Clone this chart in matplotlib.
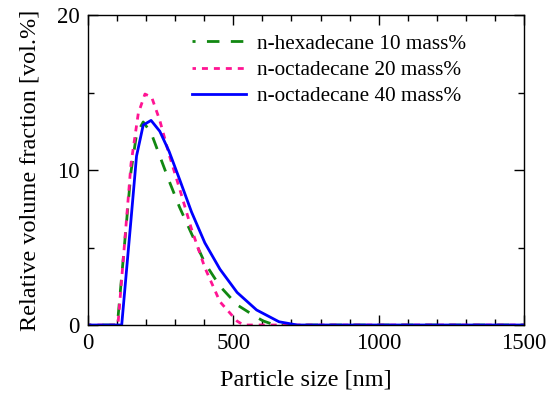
import matplotlib
matplotlib.use("Agg")
import matplotlib.pyplot as plt
from matplotlib.ticker import MultipleLocator

plt.rcParams['font.family'] = ['Liberation Serif', 'DejaVu Serif']

# Data
hex10_x = [0, 101, 148, 167, 190, 217, 247, 279, 315, 356, 402, 454, 513, 580, 603, 643, 1500]
hex10_y = [0, 0, 9.9, 12.3, 13.1, 12.4, 10.9, 9.3, 7.6, 5.9, 4.0, 2.5, 1.3, 0.5, 0.26, 0, 0]

oct20_x = [0, 103, 148, 173, 196, 219, 247, 279, 315, 356, 402, 454, 513, 535, 1500]
oct20_y = [0, 0, 10.4, 13.65, 14.9, 14.7, 13.2, 11.0, 8.8, 6.2, 3.7, 1.5, 0.25, 0, 0]

oct40_x = [0, 116, 131, 148, 167, 190, 217, 247, 279, 315, 356, 402, 454, 513, 580, 657, 720, 1500]
oct40_y = [0, 0, 3.2, 6.8, 10.9, 12.9, 13.2, 12.5, 11.2, 9.4, 7.3, 5.3, 3.6, 2.1, 0.97, 0.21, 0, 0]

labels = ["n-hexadecane 10 mass%", "n-octadecane 20 mass%", "n-octadecane 40 mass%"]
colors = ["#118811", "#ff1493", "#0000ff"]

fig = plt.figure(figsize=(5.52, 3.95), dpi=100)
ax = fig.add_axes([0.1594, 0.1772, 0.7899, 0.7848])

ax.plot(hex10_x, hex10_y, color=colors[0], lw=2.0, linestyle=(3.4, (4.5, 4.1)), label=labels[0])
ax.plot(oct20_x, oct20_y, color=colors[1], lw=2.0, linestyle=(0.9, (2.15, 2.15)), label=labels[1])
ax.plot(oct40_x, oct40_y, color=colors[2], lw=2.0, linestyle='-', label=labels[2])

ax.set_xlim(0, 1500)
ax.set_ylim(0, 20)
ax.xaxis.set_major_locator(MultipleLocator(500))
ax.xaxis.set_minor_locator(MultipleLocator(100))
ax.yaxis.set_major_locator(MultipleLocator(10))
ax.yaxis.set_minor_locator(MultipleLocator(5))
ax.tick_params(which='both', direction='in', top=True, right=True, labelsize=16.5, width=1)
ax.tick_params(which='major', length=7)
ax.tick_params(which='minor', length=4)
ax.tick_params(axis='x', pad=6)
ax.tick_params(axis='y', pad=6)
for s in ax.spines.values():
    s.set_linewidth(1)

ax.set_xlabel("Particle size [nm]", fontsize=17.5, labelpad=11)
ax.set_ylabel("Relative volume fraction [vol.%]", fontsize=17.5, labelpad=12)

leg = ax.legend(loc='upper left', bbox_to_anchor=(0.2194, 0.966), frameon=False, fontsize=15.3,
                handlelength=2.55, handletextpad=0.52, labelspacing=0.29, borderaxespad=0,
                borderpad=0.4)

fig.savefig("out.png", dpi=100)
